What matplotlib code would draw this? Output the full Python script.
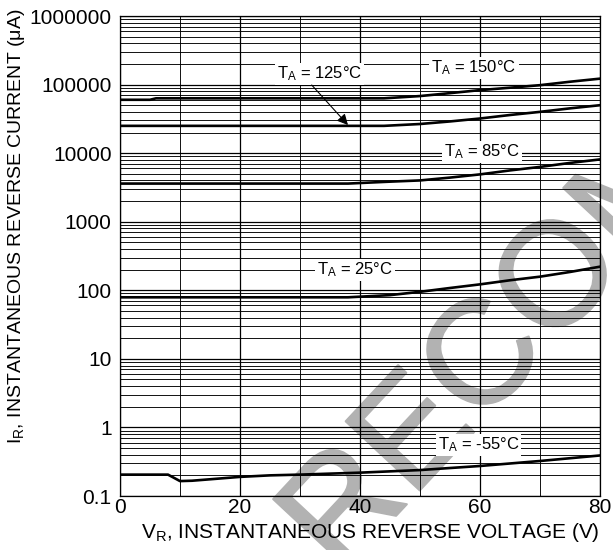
import matplotlib
matplotlib.use("Agg")
import matplotlib.pyplot as plt
import matplotlib.patheffects as pe
from matplotlib.ticker import LogLocator, FixedLocator, NullFormatter

plt.rcParams['font.family'] = ['Liberation Sans', 'DejaVu Sans']
plt.rcParams['mathtext.fontset'] = 'custom'
plt.rcParams['mathtext.rm'] = 'Liberation Sans'
plt.rcParams['mathtext.it'] = 'Liberation Sans'

# ---- data ----
v_150 = [0, 5, 6, 10, 20, 30, 40, 44, 50, 55, 60, 65, 70, 75, 80]
i_150 = [60000, 60000, 63000, 63000, 63000, 63000, 63000, 63000, 68000, 75000, 83000, 90000, 98000, 110000, 122000]

v_125 = [0, 10, 20, 30, 40, 44, 50, 55, 60, 65, 70, 75, 80]
i_125 = [25000, 25000, 25000, 25000, 25000, 25000, 26600, 29000, 32000, 36000, 40000, 45000, 50000]

v_85 = [0, 10, 20, 30, 38, 45, 50, 55, 60, 65, 70, 75, 80]
i_85 = [3600, 3600, 3600, 3600, 3600, 3840, 4000, 4400, 4900, 5600, 6300, 7200, 8100]

v_25 = [0, 10, 20, 30, 38, 45, 50, 55, 60, 65, 70, 75, 80]
i_25 = [79, 79, 79, 79, 79, 85, 95, 108, 122, 140, 158, 185, 221]

v_m55 = [0, 8, 10, 12, 20, 25, 30, 40, 50, 60, 70, 80]
i_m55 = [0.205, 0.205, 0.165, 0.167, 0.19, 0.2, 0.205, 0.219, 0.239, 0.274, 0.324, 0.39]

x_ticks = [0, 20, 40, 60, 80]
y_ticks = [0.1, 1, 10, 100, 1000, 10000, 100000, 1000000]
y_tick_labels = ['0.1', '1', '10', '100', '1000', '10000', '100000', '1000000']

labels = ['150°C', '125°C', '85°C', '25°C', '-55°C']
label_x = [59.0, 33.2, 60.4, 39.2, 59.75]
label_y = [174000, 142000, 10400, 198, 0.555]

fig = plt.figure(figsize=(6.13, 5.5), dpi=100)
ax = fig.add_axes([120/613, 1-496/550, 480/613, 480/550])
ax.patch.set_visible(False)

# watermark behind the axes contents
fig.text(339/613, -27/550, 'RECOMMENDED', rotation=47,
         rotation_mode='anchor', ha='left', va='baseline', fontsize=106,
         color='#b2b2b2', zorder=-1,
         path_effects=[pe.withStroke(linewidth=1.5, foreground='#b2b2b2')])

ax.set_yscale('log')
ax.set_xlim(0, 80)
ax.set_ylim(0.1, 1e6)
ax.set_axisbelow(True)

ax.xaxis.set_major_locator(FixedLocator(x_ticks))
ax.xaxis.set_minor_locator(FixedLocator(list(range(0, 81, 10))))
ax.yaxis.set_major_locator(FixedLocator(y_ticks))
ax.set_yticklabels(y_tick_labels)
ax.yaxis.set_minor_locator(LogLocator(base=10, subs=range(2, 10), numticks=100))
ax.yaxis.set_minor_formatter(NullFormatter())

ax.grid(which='major', color='black', lw=0.9)
ax.grid(which='minor', color='black', lw=0.65)
ax.tick_params(which='both', length=0, labelsize=15)
ax.tick_params(axis='y', pad=6)
ax.tick_params(axis='x', pad=1.5)
for s in ax.spines.values():
    s.set_linewidth(0.9)

lw = 1.9
for v, i in [(v_150, i_150), (v_125, i_125), (v_85, i_85), (v_25, i_25), (v_m55, i_m55)]:
    ax.plot(v, i, color='black', lw=lw, zorder=3)

box = dict(facecolor='white', edgecolor='none', pad=1.5)
for x, y, t in zip(label_x, label_y, labels):
    ax.text(x, y, 'T$_{\\mathrm{A}}$ = ' + t, ha='center', va='center',
            fontsize=12, bbox=box, zorder=4)

ax.annotate('', xy=(38.0, 25700), xytext=(31.95, 98600),
            arrowprops=dict(arrowstyle='-|>', color='black', lw=0.8,
                            mutation_scale=16, shrinkA=0, shrinkB=0),
            zorder=5)

fig.text(370/613, 1-532/550, 'V$_{\\mathrm{R}}$, INSTANTANEOUS REVERSE VOLTAGE (V)',
         ha='center', va='center', fontsize=15)
fig.text(17/613, 1-226/550, 'I$_{\\mathrm{R}}$, INSTANTANEOUS REVERSE CURRENT (μA)',
         ha='center', va='center', fontsize=14, rotation=90)

fig.savefig('out.png', dpi=100, facecolor='white')
